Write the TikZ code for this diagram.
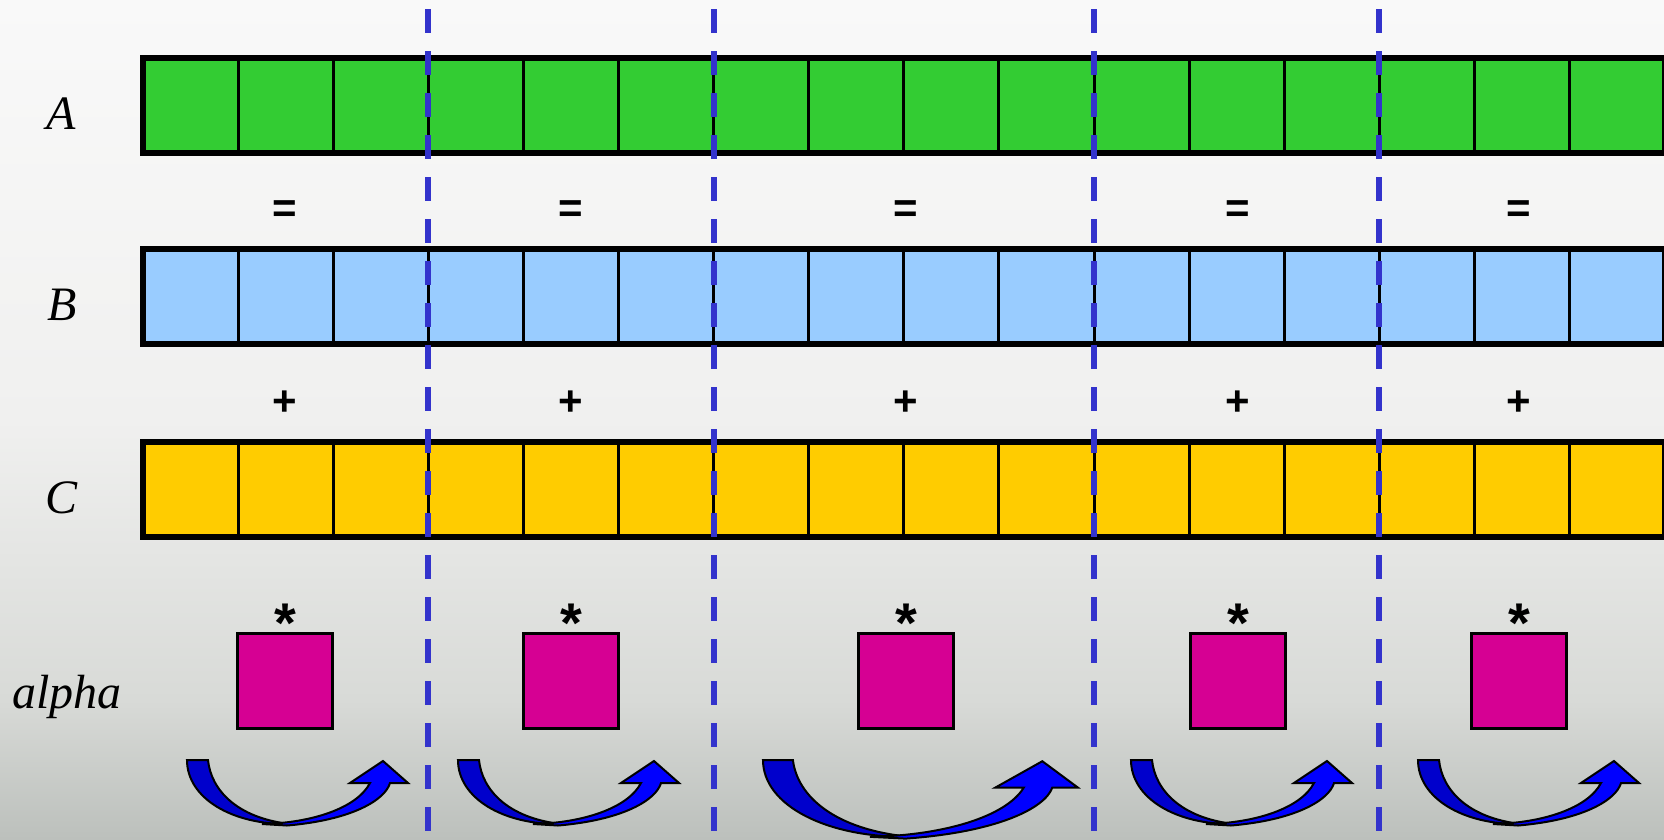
\documentclass[tikz,border=0pt]{standalone}
\usepackage{fontspec}
\setmainfont{Liberation Serif}
\newfontfamily\opfont{Liberation Sans}
\usetikzlibrary{positioning}

\definecolor{cellgreen}{RGB}{51,204,51}
\definecolor{cellblue}{RGB}{153,204,255}
\definecolor{cellyellow}{RGB}{255,204,0}
\definecolor{alphapink}{RGB}{214,0,147}
\definecolor{splitblue}{RGB}{51,51,204}
\definecolor{arrowdark}{RGB}{0,0,204}
\definecolor{arrowlight}{RGB}{0,0,255}
\definecolor{bgtop}{RGB}{249,249,249}
\definecolor{bgupper}{RGB}{240,240,239}
\definecolor{bgmid}{RGB}{216,218,215}
\definecolor{bgbot}{RGB}{188,192,188}
\pgfdeclareverticalshading{bgfade}{100bp}{color(0bp)=(bgbot); color(25bp)=(bgbot); color(33.3bp)=(bgmid); color(50bp)=(bgupper); color(75bp)=(bgtop); color(100bp)=(bgtop)}

\tikzset{
  bar/.style={draw, line width=6pt, minimum width=1521.6pt, minimum height=95pt,
    inner sep=0pt, outer sep=0pt, anchor=north west},
  divider/.style={line width=3pt},
  rowlabel/.style={font=\fontsize{48}{48}\selectfont\itshape, anchor=base},
  op/.style={font=\opfont\bfseries\fontsize{42}{42}\selectfont, anchor=base},
  star/.style={font=\opfont\bfseries\fontsize{56}{56}\selectfont, anchor=base},
  scalar/.style={draw, line width=3pt, fill=alphapink, minimum size=95pt, inner sep=0pt},
  split/.style={splitblue, line width=6pt, dash pattern=on 24pt off 18pt},
  bendarrow/.pic={
    \draw[line width=2pt, fill=arrowdark] (0,0) -- (21,0)
      .. controls (24,30) and (50,58) .. (103,64)
      .. controls (45,65) and (0,38) .. (0,0) -- cycle;
    \draw[line width=2pt, fill=arrowlight] (75,64)
      .. controls (125,63) and (170,48) .. (183,23) -- (163,23) -- (196,1)
      -- (221,23) -- (203,23)
      .. controls (198,40) and (165,60) .. (100,65.5) -- cycle;
  }
}

\begin{document}
\begin{tikzpicture}[x=1pt, y=-1pt]
\useasboundingbox (0,0) rectangle (1664,839);
\shade[shading=bgfade] (0,0) rectangle (1664,839);

% the three vectors
\node[bar, fill=cellgreen] (vecA) at (143,58) {};
\node[bar, fill=cellblue] (vecB) at (143,249) {};
\node[bar, fill=cellyellow] (vecC) at (143,442) {};
\foreach \k in {1,...,15} {
  \draw[divider] ({143+\k*95.1},58) -- ({143+\k*95.1},153);
  \draw[divider] ({143+\k*95.1},249) -- ({143+\k*95.1},344);
  \draw[divider] ({143+\k*95.1},442) -- ({143+\k*95.1},537);
}

\node[rowlabel] (labA) at (61,129) {A};
\node[rowlabel] (labB) at (62,320) {B};
\node[rowlabel] (labC) at (62,513) {C};
\node[rowlabel] (labalpha) at (67,708) {alpha};

% one chunk per thread
\foreach \x [count=\i] in {285,571,906,1238,1519} {
  \node[op] (eq\i) at (\x,222) {=};
  \node[op] (plus\i) at (\x,415) {+};
  \node[scalar] (alpha\i) at (\x,681) {};
  \node[star] (times\i) at (\x,642) {*};
}

\foreach \x/\sx/\sy in {187/1/1, 458/1/1, 763/1.425/1.2, 1131/1/1, 1418/1/1} {
  \begin{scope}[shift={(\x,760)}, xscale=\sx, yscale=\sy]
    \pic[transform shape] {bendarrow};
  \end{scope}
}

\foreach \x in {428.3,713.6,1094,1379.4}
  \draw[split] (\x,9) -- (\x,839);
\end{tikzpicture}
\end{document}
